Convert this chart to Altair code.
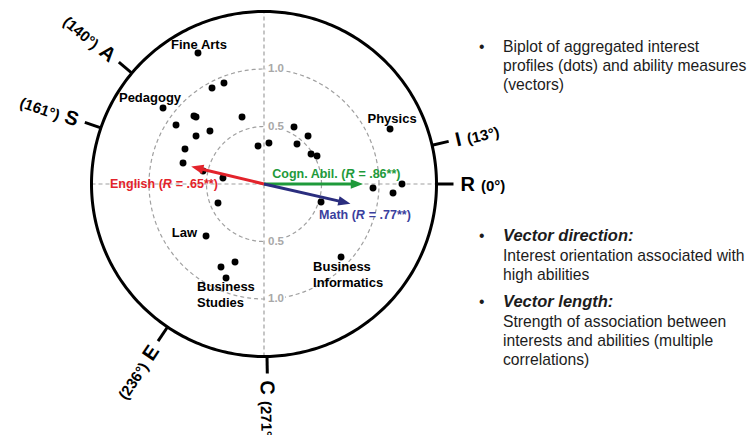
import altair as alt
import numpy as np
import pandas as pd

FONT = "Liberation Sans"

# ---------------- data ----------------
dot_x = [-0.574, -0.452, -0.348, -0.878, -0.609, -0.591, -0.191, -0.765, -0.470, -0.591,
         -0.687, -0.704, -0.530, -0.357, -0.052, 0.043, 0.261, 0.383, 0.287, 0.409,
         0.461, 1.096, 0.948, 1.200, 1.122, -0.400, -0.504, -0.374, -0.252, -0.330,
         0.496, 0.670]
dot_y = [1.139, 0.835, 0.878, 0.661, 0.591, 0.583, 0.583, 0.513, 0.461, 0.417,
         0.304, 0.183, 0.113, 0.052, 0.330, 0.357, 0.496, 0.417, 0.348, 0.261,
         0.243, 0.478, -0.035, 0.000, -0.078, -0.165, -0.452, -0.722, -0.678, -0.817,
         -0.157, -0.635]

group_lines = ["Fine Arts", "Pedagogy", "Physics", "Law",
               "Business", "Studies", "Business", "Informatics"]
group_dot = [0, 3, 21, 26, 29, 29, 31, 31]

vec_names = ["English (", "Cogn. Abil. (", "Math ("]
vec_R = [0.65, 0.86, 0.77]
vec_angle = [166.5, 0.0, -12.8]
vec_suffix = ["= .65**)", "= .86**)", "= .77**)"]
vec_colors = ["#e3232b", "#1e9a3a", "#2a2d7e"]
vec_text_colors = ["#e3232b", "#1e9a3a", "#3b3f9e"]

riasec = ["R", "I", "A", "S", "E", "C"]
riasec_deg = [0, 13, 140, 161, 236, 271]

ring_values = [1.0, 0.5, -0.5, -1.0]
ring_labels = ["1.0", "0.5", "0.5", "1.0"]

note1 = ["Biplot of aggregated interest", "profiles (dots) and ability measures", "(vectors)"]
note2_head = "Vector direction:"
note2 = ["Interest orientation associated with", "high abilities"]
note3_head = "Vector length:"
note3 = ["Strength of association between", "interests and abilities (multiple", "correlations)"]

# ---------------- layout ----------------
W, H = 740, 427
PX = 115.0                      # pixels per unit
CX, CY = 256.0, 176.0           # centre of the biplot in plot pixels
X = alt.Scale(domain=[-CX / PX, (W - CX) / PX], nice=False, zero=False)
Y = alt.Scale(domain=[-(H - CY) / PX, CY / PX], nice=False, zero=False)
R_OUT = 1.5
R_TICK = R_OUT + 17 / PX
LETTER_SIZE = 20
# approximate bold glyph widths (em) for the letter labels
LETTER_EM = {"R": 0.722, "I": 0.278, "A": 0.722, "S": 0.667, "E": 0.667, "C": 0.722}


def xy(df):
    return dict(x=alt.X("x:Q", scale=X, axis=None), y=alt.Y("y:Q", scale=Y, axis=None))


layers = []

# dashed rings
th = np.linspace(0, 2 * np.pi, 361)
rings = pd.concat([pd.DataFrame({"ring": r, "i": np.arange(len(th)),
                                 "x": r * np.cos(th), "y": r * np.sin(th)}) for r in [0.5, 1.0]])
layers.append(alt.Chart(rings).mark_line(color="#a0a0a0", strokeWidth=1.2, strokeDash=[4, 3])
              .encode(**xy(rings), detail="ring:N", order="i:Q"))

# dashed axes
axes = pd.DataFrame({"x": [0, -R_OUT], "y": [-R_OUT, 0], "x2": [0, R_OUT], "y2": [R_OUT, 0]})
layers.append(alt.Chart(axes).mark_rule(color="#a0a0a0", strokeWidth=1.2, strokeDash=[4, 3])
              .encode(**xy(axes), x2="x2:Q", y2="y2:Q"))

# ring labels with white background
rl = pd.DataFrame({"y": ring_values, "t": ring_labels})
rl["x"] = 0.0
rl["xa"] = 2 / PX
rl["xb"] = 21 / PX
rl["ya"] = rl["y"] - 6 / PX
rl["yb"] = rl["y"] + 6 / PX
layers.append(alt.Chart(rl).mark_rect(color="white")
              .encode(x=alt.X("xa:Q", scale=X, axis=None), x2="xb:Q",
                      y=alt.Y("ya:Q", scale=Y, axis=None), y2="yb:Q"))
layers.append(alt.Chart(rl).mark_text(font=FONT, fontSize=11.5, fontWeight="bold", color="#a8a8a8",
                                      align="left", baseline="middle", dx=4)
              .encode(**xy(rl), text="t:N"))

# outer circle
outer = pd.DataFrame({"i": np.arange(len(th)), "x": R_OUT * np.cos(th), "y": R_OUT * np.sin(th)})
layers.append(alt.Chart(outer).mark_line(color="black", strokeWidth=3)
              .encode(**xy(outer), order="i:Q"))

# RIASEC ticks and labels
rad = np.deg2rad(riasec_deg)
rt = pd.DataFrame({"letter": riasec, "deg": [f"({d}°)" for d in riasec_deg]})
rt["x"] = R_OUT * np.cos(rad)
rt["y"] = R_OUT * np.sin(rad)
rt["x2"] = R_TICK * np.cos(rad)
rt["y2"] = R_TICK * np.sin(rad)
inward = [90 < d < 260 for d in riasec_deg]
rt["ang"] = [((180 - d) % 360) if inw else ((-d) % 360) for d, inw in zip(riasec_deg, inward)]
rt["inward"] = inward
r_letter = R_TICK + 7 / PX
lw = np.array([LETTER_EM[l] * LETTER_SIZE for l in riasec])
r_deg = R_TICK + (7 + lw + 6) / PX
rt["lx"] = r_letter * np.cos(rad)
rt["ly"] = r_letter * np.sin(rad)
rt["dx_"] = r_deg * np.cos(rad)
rt["dy_"] = r_deg * np.sin(rad)

layers.append(alt.Chart(rt).mark_rule(color="black", strokeWidth=3)
              .encode(**xy(rt), x2="x2:Q", y2="y2:Q"))
for inw, al in [(True, "right"), (False, "left")]:
    sub = rt[rt["inward"] == inw]
    layers.append(alt.Chart(sub).mark_text(font=FONT, fontSize=LETTER_SIZE, fontWeight="bold",
                                           color="black", align=al, baseline="alphabetic", dy=7)
                  .encode(x=alt.X("lx:Q", scale=X, axis=None), y=alt.Y("ly:Q", scale=Y, axis=None),
                          angle=alt.Angle("ang:Q", scale=None), text="letter:N"))
    layers.append(alt.Chart(sub).mark_text(font=FONT, fontSize=15, fontWeight="bold", color="black",
                                           align=al, baseline="alphabetic", dy=7)
                  .encode(x=alt.X("dx_:Q", scale=X, axis=None), y=alt.Y("dy_:Q", scale=Y, axis=None),
                          angle=alt.Angle("ang:Q", scale=None), text="deg:N"))

# dots
dots = pd.DataFrame({"x": dot_x, "y": dot_y})
layers.append(alt.Chart(dots).mark_circle(color="black", size=48, opacity=1)
              .encode(**xy(dots)))

# group labels (offsets in pixels relative to their dot)
label_layout = [("center", 1, -8), ("center", -13, -10), ("center", 2, -10), ("right", -9, -3),
                ("left", -29, 9), ("left", -29, 25), ("left", -28, 10), ("left", -28, 26)]
for txt, di, (al, ddx, ddy) in zip(group_lines, group_dot, label_layout):
    d = pd.DataFrame({"x": [dot_x[di]], "y": [dot_y[di]], "t": [txt]})
    layers.append(alt.Chart(d).mark_text(font=FONT, fontSize=13, fontWeight="bold", color="black",
                                         align=al, baseline="middle", dx=ddx, dy=ddy)
                  .encode(**xy(d), text="t:N"))

# vectors
va = np.deg2rad(vec_angle)
vec = pd.DataFrame({"name": vec_names, "R": vec_R})
vec["ux"] = np.cos(va)
vec["uy"] = np.sin(va)
vec["x"] = 0.0
vec["y"] = 0.0
vec["ex"] = vec["R"] * vec["ux"] - 8 / PX * vec["ux"]
vec["ey"] = vec["R"] * vec["uy"] - 8 / PX * vec["uy"]
vec["hx"] = vec["R"] * vec["ux"] - 6 / PX * vec["ux"]
vec["hy"] = vec["R"] * vec["uy"] - 6 / PX * vec["uy"]
vec["ang"] = [(-a) % 360 for a in vec_angle]
vec["tx"] = vec["R"] * vec["ux"]
vec["ty"] = vec["R"] * vec["uy"]

# label layout: (font size, dx of italic R centre from tip, dy)
vec_label_layout = [(12.5, -24, 17), (12.5, -13, -10), (12.5, 10, 11)]

for i in range(len(vec_names)):
    row = vec.iloc[[i]]
    col = vec_colors[i]
    tcol = vec_text_colors[i]
    layers.append(alt.Chart(row).mark_rule(color=col, strokeWidth=3)
                  .encode(**xy(row), x2="ex:Q", y2="ey:Q"))
    layers.append(alt.Chart(row).mark_point(shape="M1,0L-1,-0.78L-1,0.78Z", filled=True, size=150,
                                            opacity=1, color=col, strokeWidth=0)
                  .encode(x=alt.X("hx:Q", scale=X, axis=None), y=alt.Y("hy:Q", scale=Y, axis=None),
                          angle=alt.Angle("ang:Q", scale=None)))
    fs, rdx, rdy = vec_label_layout[i]
    half = 0.36 * fs
    lab = pd.DataFrame({"x": [row["tx"].iloc[0]], "y": [row["ty"].iloc[0]],
                        "a": [vec_names[i]], "r": ["R"], "b": [vec_suffix[i]]})
    enc = xy(lab)
    layers.append(alt.Chart(lab).mark_text(font=FONT, fontSize=fs, fontWeight="bold", color=tcol,
                                           align="right", baseline="middle", dx=rdx - half, dy=rdy)
                  .encode(**enc, text="a:N"))
    layers.append(alt.Chart(lab).mark_text(font=FONT, fontSize=fs, fontWeight="bold", fontStyle="italic",
                                           color=tcol, align="center", baseline="middle", dx=rdx, dy=rdy)
                  .encode(**enc, text="r:N"))
    layers.append(alt.Chart(lab).mark_text(font=FONT, fontSize=fs, fontWeight="bold", color=tcol,
                                           align="left", baseline="middle", dx=rdx + half + 4, dy=rdy)
                  .encode(**enc, text="b:N"))

# notes on the right
TXT = "#1c1c1c"
one = pd.DataFrame({"k": [0]})


def note(text, x, y, size=15.7, weight="normal", style="normal"):
    return alt.Chart(one).mark_text(font=FONT, fontSize=size, fontWeight=weight, fontStyle=style,
                                    color=TXT, align="left", baseline="alphabetic",
                                    lineBreak="\n", lineHeight=19).encode(
        x=alt.value(x), y=alt.value(y), text=alt.value(text))


layers.append(note("•", 471, 44))
layers.append(note("\n".join(note1), 495, 44))
layers.append(note("•", 471, 233))
layers.append(note(note2_head, 495, 233, size=16.5, weight="bold", style="italic"))
layers.append(note("\n".join(note2), 495, 253))
layers.append(note("•", 471, 299))
layers.append(note(note3_head, 495, 299, size=16.5, weight="bold", style="italic"))
layers.append(note("\n".join(note3), 495, 319))

chart = alt.layer(*layers).properties(
    width=W, height=H, padding=0, autosize=alt.AutoSizeParams(type="none")
).configure_view(stroke=None)

chart.save("out.html", embed_options={"renderer": "svg", "actions": False})
